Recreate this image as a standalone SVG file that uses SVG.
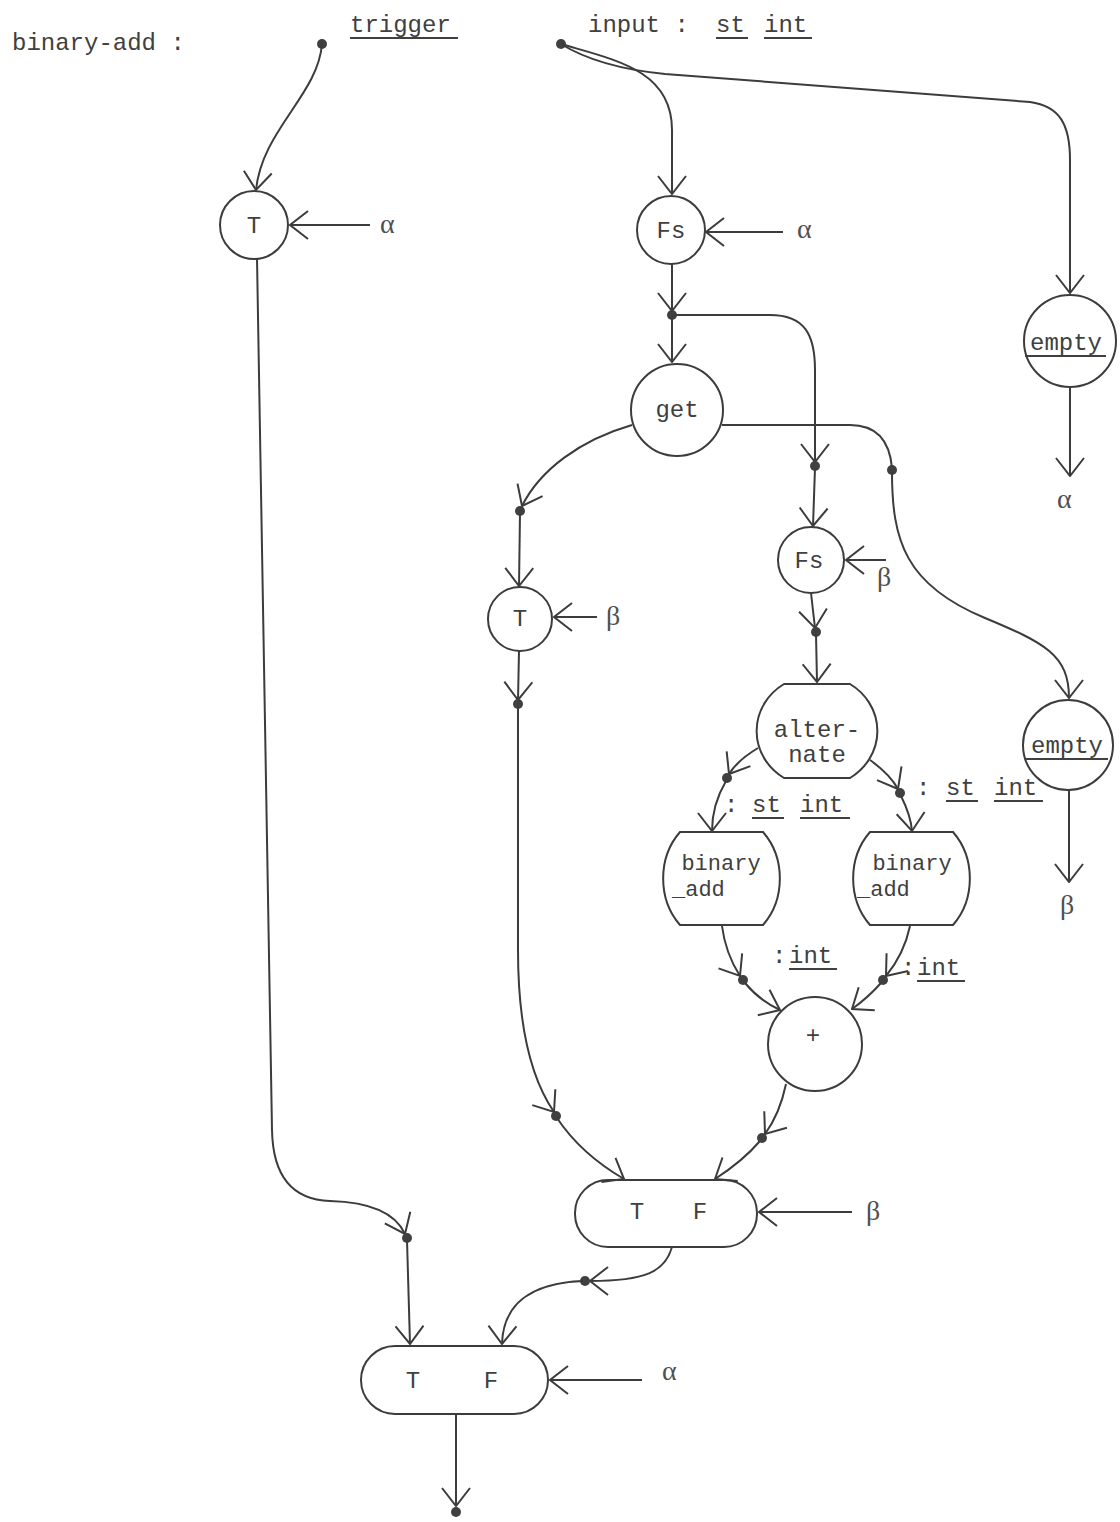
<svg xmlns="http://www.w3.org/2000/svg" width="1120" height="1522" viewBox="0 0 1120 1522">
<defs>
<style>
.n{fill:none;stroke:#3c3c3c;stroke-width:2}
.c{fill:none;stroke:#3c3c3c;stroke-width:2}
.a{marker-end:url(#arr)}
.t{font-family:"Liberation Mono","DejaVu Sans Mono",monospace;font-size:24px;fill:#404040}
.s{font-size:22px}
.m{text-anchor:middle}
.g{font-family:"Liberation Serif","DejaVu Serif",serif;font-size:28px;fill:#505050}
.u{stroke:#404040;stroke-width:2}
.d{fill:#404040}
</style>
<marker id="arr" viewBox="0 0 20 30" refX="19" refY="15" markerWidth="20" markerHeight="30" markerUnits="userSpaceOnUse" orient="auto">
<path d="M1,1 L19,15 L1,29" fill="none" stroke="#3c3c3c" stroke-width="2"/>
</marker>
</defs>
<rect width="1120" height="1522" fill="#ffffff"/>

<g id="header">
<text class="t" x="12" y="50">binary-add :</text>
<text class="t" x="350" y="32">trigger</text>
<line class="u" x1="350" y1="38" x2="458" y2="38"/>
<text class="t" x="588" y="32">input :</text>
<text class="t" x="716" y="32">st</text>
<text class="t" x="764" y="32">int</text>
<line class="u" x1="716" y1="38" x2="748" y2="38"/>
<line class="u" x1="764" y1="38" x2="812" y2="38"/>
</g>

<g id="connectors">
<circle class="d" cx="322" cy="44" r="5"/>
<circle class="d" cx="561" cy="44" r="5"/>
<path class="c a" d="M322,44 C318,95 262,130 256,190"/>
<path class="c a" d="M370,225 L290,225"/>
<path class="c a" d="M257,258 L272,1130 C273,1185 300,1200 330,1201 C368,1202 395,1212 405,1234"/>
<circle class="d" cx="407" cy="1238" r="5"/>
<path class="c a" d="M407,1240 L410,1344"/>
<path class="c a" d="M561,44 C615,60 672,70 672,130 L672,194"/>
<path class="c a" d="M561,44 C590,62 625,70 665,74 L1030,102 C1060,106 1070,125 1070,160 L1070,293"/>
<path class="c a" d="M783,232 L706,232"/>
<path class="c a" d="M672,264 L672,311"/>
<circle class="d" cx="672" cy="315" r="5"/>
<path class="c a" d="M672,316 L672,362"/>
<path class="c a" d="M672,315 L770,315 C805,315 815,335 815,370 L815,462"/>
<circle class="d" cx="815" cy="466" r="5"/>
<path class="c a" d="M815,468 L813,526"/>
<path class="c" d="M722,425 L850,425 C880,425 890,445 892,468"/>
<circle class="d" cx="892" cy="470" r="5"/>
<path class="c a" d="M892,472 C892,540 905,585 985,618 C1045,643 1069,655 1069,698"/>
<path class="c a" d="M632,425 C580,440 540,470 522,506"/>
<circle class="d" cx="520" cy="511" r="5"/>
<path class="c a" d="M520,513 L519,586"/>
<path class="c a" d="M597,617 L554,617"/>
<path class="c a" d="M519,651 L518,700"/>
<circle class="d" cx="518" cy="704" r="5"/>
<path class="c a" d="M518,706 L518,950 C518,1030 532,1080 554,1112"/>
<circle class="d" cx="556" cy="1116" r="5"/>
<path class="c a" d="M557,1118 C575,1145 600,1165 624,1179"/>
<path class="c a" d="M886,560 L846,560"/>
<path class="c a" d="M811,593 L815,628"/>
<circle class="d" cx="816" cy="632" r="5"/>
<path class="c a" d="M816,634 L817,682"/>
<path class="c a" d="M758,748 C743,757 734,766 729,774"/>
<circle class="d" cx="727" cy="778" r="5"/>
<path class="c a" d="M726,781 C716,798 712,815 712,831"/>
<path class="c a" d="M870,760 C884,770 893,780 898,789"/>
<circle class="d" cx="900" cy="793" r="5"/>
<path class="c a" d="M901,796 C907,808 911,818 912,831"/>
<path class="c a" d="M722,926 C725,950 733,965 740,976"/>
<circle class="d" cx="743" cy="980" r="5"/>
<path class="c a" d="M745,983 C755,995 767,1004 780,1010"/>
<path class="c a" d="M910,926 C905,950 895,965 886,976"/>
<circle class="d" cx="883" cy="980" r="5"/>
<path class="c a" d="M881,983 C872,993 862,1002 852,1009"/>
<path class="c a" d="M786,1084 C781,1108 773,1123 765,1134"/>
<circle class="d" cx="762" cy="1138" r="5"/>
<path class="c a" d="M760,1141 C748,1155 732,1168 715,1179"/>
<path class="c a" d="M852,1212 L759,1212"/>
<path class="c a" d="M672,1247 C665,1272 645,1281 590,1281"/>
<circle class="d" cx="585" cy="1281" r="5"/>
<path class="c a" d="M583,1281 C530,1283 503,1305 502,1344"/>
<path class="c a" d="M642,1380 L550,1380"/>
<path class="c a" d="M456,1414 L456,1506"/>
<circle class="d" cx="456" cy="1512" r="5"/>
<path class="c a" d="M1070,388 L1070,476"/>
<path class="c a" d="M1069,790 L1069,882"/>
</g>

<g id="T1">
<circle class="n" cx="254" cy="225" r="34"/>
<text class="t m" x="254" y="233">T</text>
<text class="g" x="380" y="233">α</text>
</g>
<g id="Fs1">
<circle class="n" cx="671" cy="230" r="34"/>
<text class="t m" x="671" y="238">Fs</text>
<text class="g" x="797" y="238">α</text>
</g>
<g id="get">
<circle class="n" cx="677" cy="410" r="46"/>
<text class="t m" x="677" y="417">get</text>
</g>
<g id="empty1">
<circle class="n" cx="1070" cy="341" r="46"/>
<text class="t m" x="1066" y="350">empty</text>
<line class="u" x1="1025" y1="356" x2="1106" y2="356"/>
<text class="g" x="1057" y="508">α</text>
</g>
<g id="T2">
<circle class="n" cx="520" cy="619" r="32"/>
<text class="t m" x="520" y="626">T</text>
<text class="g" x="606" y="625">β</text>
</g>
<g id="Fs2">
<circle class="n" cx="811" cy="560" r="33"/>
<text class="t m" x="809" y="568">Fs</text>
<text class="g" x="877" y="586">β</text>
</g>
<g id="empty2">
<circle class="n" cx="1068" cy="745" r="45"/>
<text class="t m" x="1067" y="753">empty</text>
<line class="u" x1="1026" y1="759" x2="1108" y2="759"/>
<text class="g" x="1060" y="914">β</text>
</g>
<g id="alternate">
<path class="n" d="M784,684 L850,684 A60,56 0 0 1 850,778 L784,778 A60,56 0 0 1 784,684 Z"/>
<text class="t m" x="817" y="737">alter-</text>
<text class="t m" x="817" y="762">nate</text>
<text class="t" x="724" y="812">:</text>
<text class="t" x="752" y="812">st</text>
<text class="t" x="800" y="812">int</text>
<line class="u" x1="752" y1="818" x2="784" y2="818"/>
<line class="u" x1="800" y1="818" x2="850" y2="818"/>
<text class="t" x="916" y="795">:</text>
<text class="t" x="946" y="795">st</text>
<text class="t" x="994" y="795">int</text>
<line class="u" x1="946" y1="801" x2="978" y2="801"/>
<line class="u" x1="994" y1="801" x2="1043" y2="801"/>
</g>
<g id="binary_add_left">
<path class="n" d="M680,832 L763,832 A58,66 0 0 1 763,925 L680,925 A58,66 0 0 1 680,832 Z"/>
<text class="t s m" x="721" y="870">binary</text>
<text class="t s" x="672" y="896">_add</text>
<text class="t" x="772" y="963">:</text>
<text class="t" x="789" y="963">int</text>
<line class="u" x1="789" y1="969" x2="837" y2="969"/>
</g>
<g id="binary_add_right">
<path class="n" d="M870,832 L953,832 A58,66 0 0 1 953,925 L870,925 A58,66 0 0 1 870,832 Z"/>
<text class="t s m" x="912" y="870">binary</text>
<text class="t s" x="857" y="896">_add</text>
<text class="t" x="901" y="975">:</text>
<text class="t" x="917" y="975">int</text>
<line class="u" x1="917" y1="981" x2="965" y2="981"/>
</g>
<g id="plus">
<circle class="n" cx="815" cy="1044" r="47"/>
<text class="t m" x="813" y="1043">+</text>
</g>
<g id="TF_upper">
<rect class="n" x="575" y="1180" width="182" height="67" rx="33"/>
<text class="t m" x="637" y="1219">T</text>
<text class="t m" x="700" y="1219">F</text>
<text class="g" x="866" y="1220">β</text>
</g>
<g id="TF_lower">
<rect class="n" x="361" y="1346" width="187" height="68" rx="34"/>
<text class="t m" x="413" y="1388">T</text>
<text class="t m" x="491" y="1388">F</text>
<text class="g" x="662" y="1380">α</text>
</g>
</svg>
